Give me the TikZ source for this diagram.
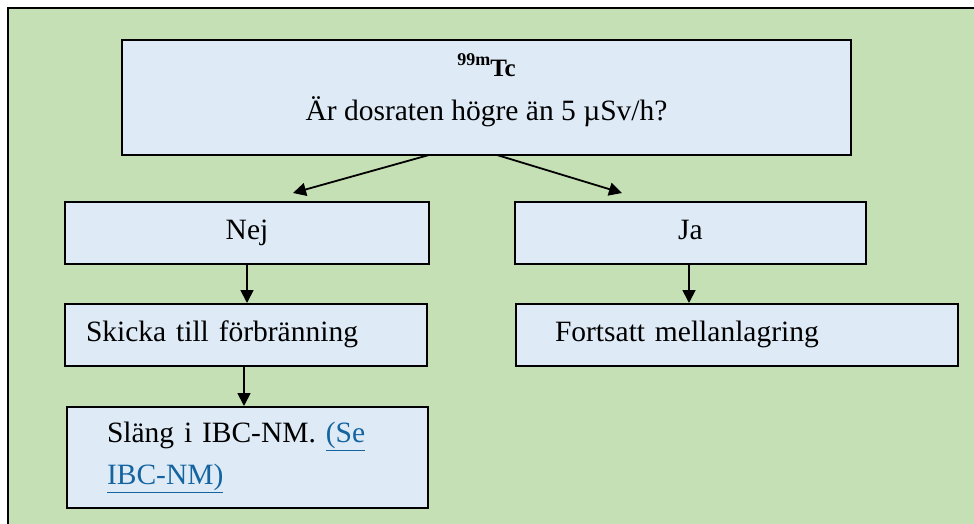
\documentclass[tikz,border=0pt]{standalone}
\usepackage{fontspec}
\setmainfont{Liberation Serif}
\usetikzlibrary{arrows.meta}
\definecolor{bggreen}{HTML}{C5E0B4}
\definecolor{boxblue}{HTML}{DEEBF7}
\definecolor{linkblue}{HTML}{1464A0}
\begin{document}
\begin{tikzpicture}[x=1pt,y=-1pt,
  box/.style={draw=black,line width=2pt,fill=boxblue,inner sep=0pt,
    font=\fontsize{29.5}{42}\selectfont},
  oneline/.style={box,text height=20pt,text depth=6.5pt},
  arr/.style={line width=1.8pt,-{Triangle[length=13pt,width=13pt]}}]
\useasboundingbox (0,0) rectangle (974,524);
\begin{scope}
\clip (0,0) rectangle (974,524);
\draw[line width=2.3pt,fill=bggreen] (7.8,7.8) rectangle (990,540);
\end{scope}
\node[box,minimum width=729pt,minimum height=115pt,align=center] (top) at (486.5,97.5)
  {{\bfseries\fontsize{18}{20}\selectfont\raisebox{11pt}{99m}}{\bfseries\fontsize{25}{30}\selectfont Tc}\\[2pt]
   Är dosraten högre än 5 µSv/h?\rule[-20pt]{0pt}{1pt}};
\node[oneline,minimum width=364pt,minimum height=62pt] (nej) at (247,233) {Nej};
\node[oneline,minimum width=351pt,minimum height=62pt] (ja) at (690.5,233) {Ja};
\node[oneline,minimum width=362pt,minimum height=62pt,inner xsep=21pt,text width=320pt,align=left] (skicka) at (246,335) {Skicka till förbränning};
\node[oneline,minimum width=442pt,minimum height=62pt,inner xsep=39pt,text width=364pt,align=left] (fort) at (737,335) {Fortsatt mellanlagring};
\node[box,minimum width=361pt,minimum height=101pt,inner xsep=40pt,text width=281pt,align=left] (slang) at (247.5,457.5)
  {Släng i IBC-NM. \textcolor{linkblue}{\underline{(Se}}\\\textcolor{linkblue}{\underline{IBC-NM)}}};
\coordinate (lstart) at (429,155);
\coordinate (lend) at (293,193);
\coordinate (rstart) at (497,155);
\coordinate (rend) at (622,193);
\draw[arr] (lstart) -- (lend);
\draw[arr] (rstart) -- (rend);
\draw[arr] (nej.south) -- (nej.south |- skicka.north);
\draw[arr] (skicka.south -| 244,0) -- (slang.north -| 244,0);
\draw[arr] (ja.south -| 689,0) -- (fort.north -| 689,0);
\end{tikzpicture}
\end{document}
